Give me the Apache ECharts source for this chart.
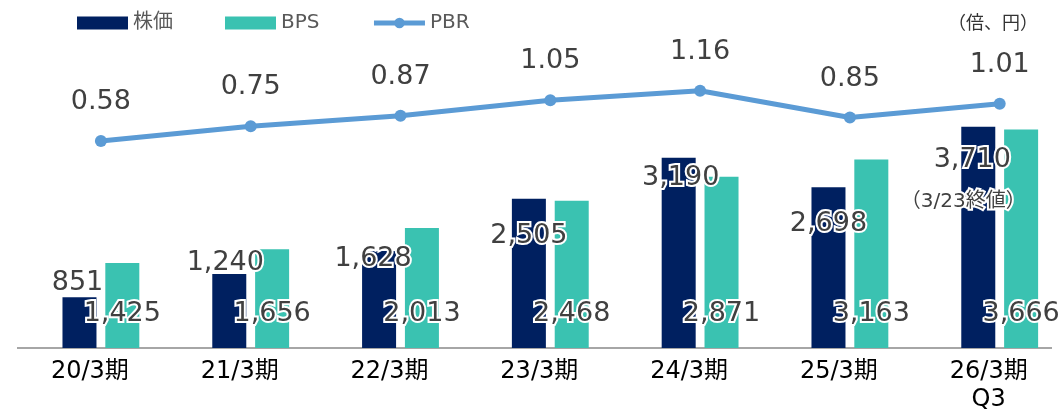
<!DOCTYPE html>
<html>
<head>
<meta charset="utf-8">
<script src="https://cdn.jsdelivr.net/npm/echarts@6/dist/echarts.min.js"></script>
<style>
  html, body { margin: 0; padding: 0; background: #fff; }
  #chart { width: 1061px; height: 411px; }
</style>
</head>
<body>
<div id="chart"></div>
<script>
// データ
var categories = ['20/3期', '21/3期', '22/3期', '23/3期', '24/3期', '25/3期', '26/3期\nQ3'];
var stockPrice = [851, 1240, 1628, 2505, 3190, 2698, 3710];
var bps = [1425, 1656, 2013, 2468, 2871, 3163, 3666];
var pbr = [0.58, 0.75, 0.87, 1.05, 1.16, 0.85, 1.01];
var priceNote = '（3/23終値）';

// 株価ラベルの位置調整 [dx, dy] (棒の上端から)
var priceLabelShift = [[-2, -29], [-4, -26], [-6, -7], [0, 22], [2, 5], [0, 22], [-6, 18]];

var FONT = "'DejaVu Sans', 'Noto Sans CJK JP', sans-serif";
var LABEL_COLOR = '#404040';

function fmt(v) { return v.toLocaleString('en-US'); }

var chart = echarts.init(document.getElementById('chart'));

var priceData = stockPrice.map(function (v, i) {
  return {
    value: v,
    label: {
      position: ['50%', priceLabelShift[i][1]],
      offset: [priceLabelShift[i][0], 0]
    }
  };
});

var option = {
  animation: false,
  textStyle: { fontFamily: FONT },
  legend: {
    data: [
      { name: '株価', icon: 'rect' },
      { name: 'BPS', icon: 'rect' },
      { name: 'PBR', lineStyle: { width: 5 } }
    ],
    left: 72,
    top: 8,
    itemWidth: 51,
    itemHeight: 13,
    itemGap: 52,
    textStyle: { fontSize: 20, color: '#595959', fontFamily: FONT }
  },
  grid: { left: 26, top: 60, width: 1048.6, height: 288, outerBoundsMode: 'none' },
  xAxis: {
    type: 'category',
    data: categories,
    axisLine: { show: false },
    axisTick: { show: false },
    axisLabel: {
      color: '#000',
      fontSize: 24,
      lineHeight: 28,
      margin: 10,
      padding: [0, 22, 0, 0],
      fontFamily: FONT
    }
  },
  yAxis: [
    { type: 'value', min: 0, max: 4830, show: false, splitLine: { show: false } },
    { type: 'value', min: -1.808, max: 1.514, show: false, splitLine: { show: false } }
  ],
  graphic: [{
    type: 'line',
    shape: { x1: 17, y1: 348, x2: 1052, y2: 348 },
    style: { stroke: '#A6A6A6', lineWidth: 2 },
    z: 0
  }, {
    type: 'text',
    x: 993,
    y: 22,
    style: {
      text: '（倍、円）',
      align: 'center',
      verticalAlign: 'middle',
      fontSize: 18,
      fontFamily: "'Noto Sans CJK JP', sans-serif",
      fill: '#333'
    }
  }],
  series: [
    {
      name: '株価',
      type: 'bar',
      yAxisIndex: 0,
      barWidth: 34,
      barGap: '26%',
      itemStyle: { color: '#002060' },
      label: {
        show: true,
        align: 'center',
        verticalAlign: 'top',
        fontSize: 27,
        lineHeight: 30,
        color: LABEL_COLOR,
        textBorderColor: '#fff',
        textBorderWidth: 4,
        formatter: function (p) {
          if (p.dataIndex === stockPrice.length - 1) {
            return fmt(p.value) + '\n{n|' + priceNote + '}';
          }
          return fmt(p.value);
        },
        rich: {
          n: {
            fontSize: 20,
            lineHeight: 54,
            color: LABEL_COLOR,
            fontFamily: FONT,
            textBorderColor: '#fff',
            textBorderWidth: 4,
            padding: [0, 18, 0, 0]
          }
        }
      },
      data: priceData
    },
    {
      name: 'BPS',
      type: 'bar',
      yAxisIndex: 0,
      barWidth: 34,
      itemStyle: { color: '#3AC2B1' },
      label: {
        show: true,
        position: 'insideBottom',
        distance: 19,
        fontSize: 27,
        lineHeight: 30,
        color: LABEL_COLOR,
        textBorderColor: '#fff',
        textBorderWidth: 4,
        formatter: function (p) { return fmt(p.value); }
      },
      data: bps
    },
    {
      name: 'PBR',
      type: 'line',
      yAxisIndex: 1,
      symbol: 'circle',
      symbolSize: 12,
      lineStyle: { color: '#5B9BD5', width: 5 },
      itemStyle: { color: '#5B9BD5' },
      label: {
        show: true,
        position: 'top',
        distance: 18,
        fontSize: 27,
        lineHeight: 30,
        color: LABEL_COLOR,
        formatter: function (p) { return p.value.toFixed(2); }
      },
      z: 5,
      data: pbr
    }
  ]
};

chart.setOption(option);
</script>
</body>
</html>
